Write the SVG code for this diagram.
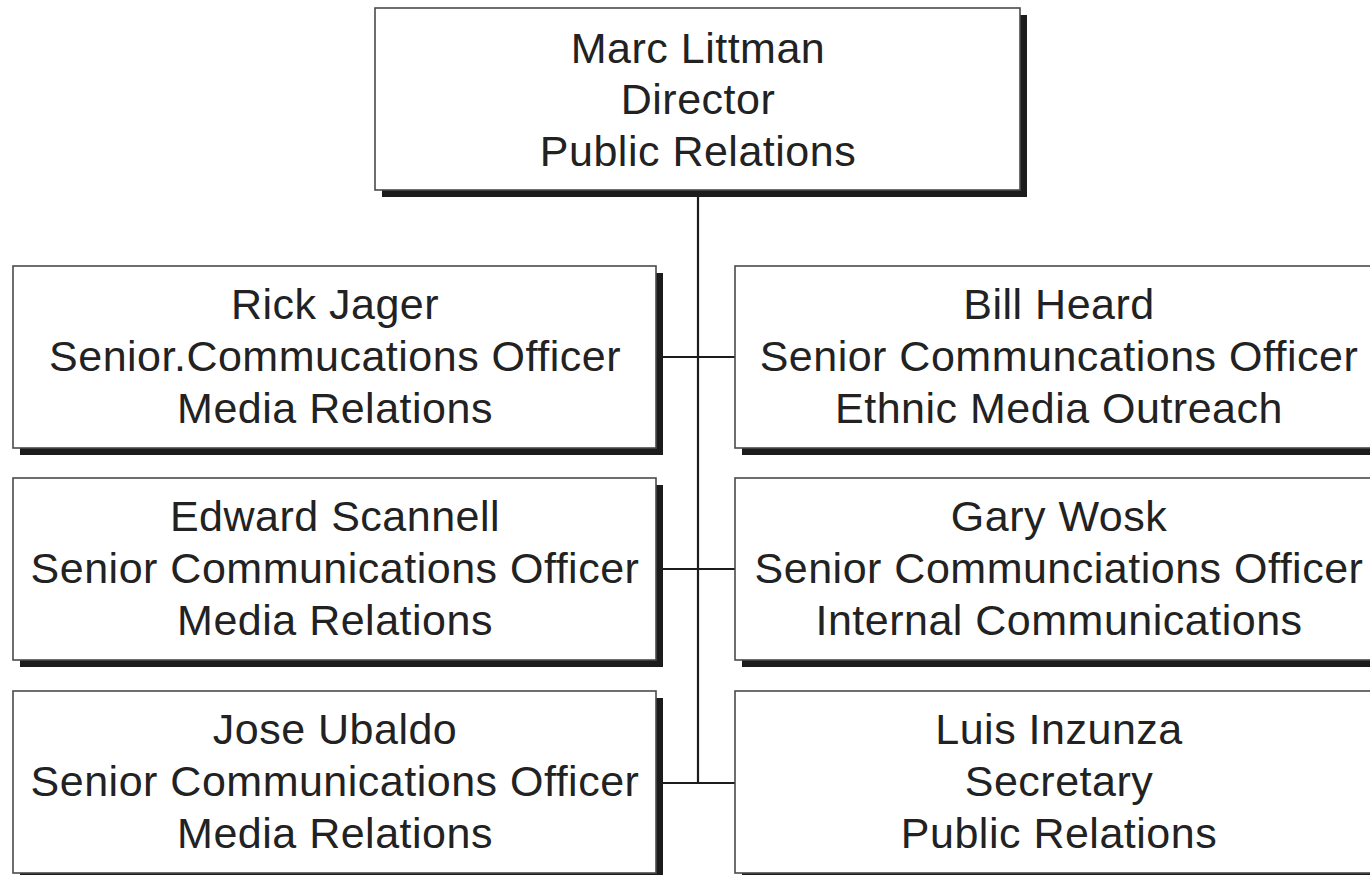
<svg xmlns="http://www.w3.org/2000/svg" width="1370" height="875" viewBox="0 0 1370 875">
<style>
.shadow{fill:#1c1c1c}
.box{fill:#fff;stroke:#4a4a4a;stroke-width:1.6}
.t{font-family:"Liberation Sans",Arial,sans-serif;font-size:43px;letter-spacing:0.5px;fill:#222;text-anchor:middle}
.conn{stroke:#1c1c1c;stroke-width:2.2;fill:none}
</style>
<rect width="1370" height="875" fill="#fff"/>
<g id="connectors">
<line class="conn" x1="698" y1="190" x2="698" y2="783"/>
<line class="conn" x1="662" y1="357" x2="736" y2="357"/>
<line class="conn" x1="662" y1="569" x2="736" y2="569"/>
<line class="conn" x1="662" y1="783" x2="736" y2="783"/>
</g>
<g id="marc">
<rect class="shadow" x="382" y="15" width="645" height="182"/>
<rect class="box" x="375" y="8" width="645" height="182"/>
<text class="t" x="698" y="63">Marc Littman</text>
<text class="t" x="698" y="114">Director</text>
<text class="t" x="698" y="166">Public Relations</text>
</g>
<g id="rick">
<rect class="shadow" x="20" y="273" width="643" height="182"/>
<rect class="box" x="13" y="266" width="643" height="182"/>
<text class="t" x="335" y="319">Rick Jager</text>
<text class="t" x="335" y="371">Senior.Commucations Officer</text>
<text class="t" x="335" y="423">Media Relations</text>
</g>
<g id="bill">
<rect class="shadow" x="742" y="273" width="646" height="182"/>
<rect class="box" x="735" y="266" width="646" height="182"/>
<text class="t" x="1059" y="319">Bill Heard</text>
<text class="t" x="1059" y="371">Senior Communcations Officer</text>
<text class="t" x="1059" y="423">Ethnic Media Outreach</text>
</g>
<g id="edward">
<rect class="shadow" x="20" y="485" width="643" height="182"/>
<rect class="box" x="13" y="478" width="643" height="182"/>
<text class="t" x="335" y="531">Edward Scannell</text>
<text class="t" x="335" y="583">Senior Communications Officer</text>
<text class="t" x="335" y="635">Media Relations</text>
</g>
<g id="gary">
<rect class="shadow" x="742" y="485" width="646" height="182"/>
<rect class="box" x="735" y="478" width="646" height="182"/>
<text class="t" x="1059" y="531">Gary Wosk</text>
<text class="t" x="1059" y="583">Senior Communciations Officer</text>
<text class="t" x="1059" y="635">Internal Communications</text>
</g>
<g id="jose">
<rect class="shadow" x="20" y="698" width="643" height="182"/>
<rect class="box" x="13" y="691" width="643" height="182"/>
<text class="t" x="335" y="744">Jose Ubaldo</text>
<text class="t" x="335" y="796">Senior Communications Officer</text>
<text class="t" x="335" y="848">Media Relations</text>
</g>
<g id="luis">
<rect class="shadow" x="742" y="698" width="646" height="182"/>
<rect class="box" x="735" y="691" width="646" height="182"/>
<text class="t" x="1059" y="744">Luis Inzunza</text>
<text class="t" x="1059" y="796">Secretary</text>
<text class="t" x="1059" y="848">Public Relations</text>
</g>
</svg>
